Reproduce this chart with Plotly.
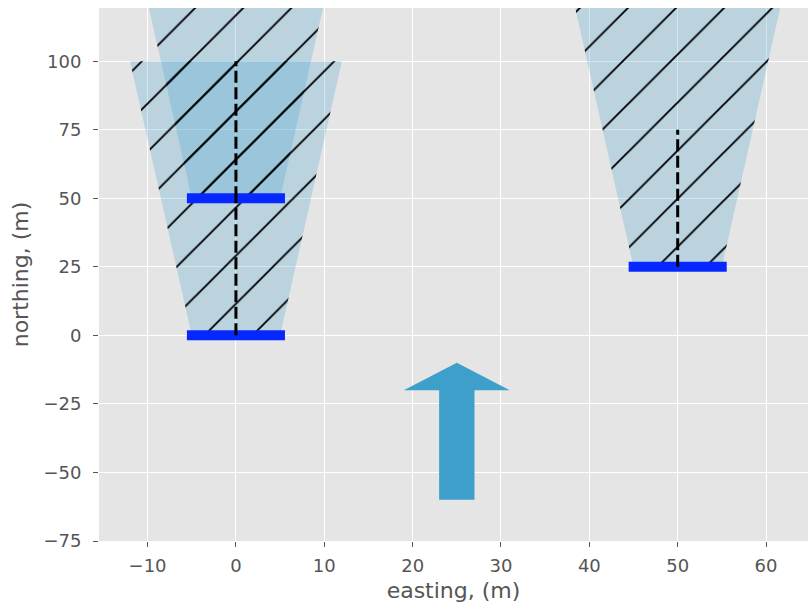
import numpy as np
import plotly.graph_objects as go

# Sensor layout (metres): position of each aperture and its beam
sensor_east = [0, 0, 50]
sensor_north = [0, 50, 25]
beam_range = [100, 100, 100]
view_length = [50, 50, 50]
aperture_width = 10.0
half_angle_deg = 4.0

# Direction-of-travel arrow
arrow_east = 25.0
arrow_north = -60.0
arrow_length = 50.0
arrow_shaft_width = 4.0
arrow_head_width = 12.0
arrow_head_length = 10.0

x_ticks = [-10, 0, 10, 20, 30, 40, 50, 60]
y_ticks = [-75, -50, -25, 0, 25, 50, 75, 100]

BEAM_RGB = (63, 159, 203)
beam_fill = "rgba(%d,%d,%d,0.26)" % BEAM_RGB
arrow_color = "rgb(%d,%d,%d)" % BEAM_RGB
bar_color = "#0628FF"
text_color = "#555555"
font_family = "DejaVu Sans"
cap_ext = 0.55  # projecting cap on the aperture bars

fig = go.Figure()

spread = np.tan(np.radians(half_angle_deg))
half = aperture_width / 2.0

# Beam footprints (hatched trapezoids)
for e, n, r in zip(sensor_east, sensor_north, beam_range):
    top_half = half + r * spread
    xs = [e - half, e + half, e + top_half, e - top_half, e - half]
    ys = [n, n, n + r, n + r, n]
    fig.add_trace(go.Scatter(
        x=xs, y=ys, mode="none", fill="toself", fillcolor=beam_fill,
        fillpattern=dict(shape="/", size=34, solidity=0.055,
                         fgcolor="black", fgopacity=1.0, bgcolor=beam_fill),
        hoverinfo="skip", showlegend=False,
    ))

# Aperture bars
for e, n in zip(sensor_east, sensor_north):
    fig.add_trace(go.Scatter(
        x=[e - half - cap_ext, e + half + cap_ext], y=[n, n], mode="lines",
        line=dict(color=bar_color, width=10), hoverinfo="skip", showlegend=False,
    ))

# Look direction (dashed)
for e, n, L in zip(sensor_east, sensor_north, view_length):
    fig.add_trace(go.Scatter(
        x=[e, e], y=[n, n + L], mode="lines",
        line=dict(color="black", width=3, dash="12px,4.5px"),
        hoverinfo="skip", showlegend=False,
    ))

# Arrow
sw = arrow_shaft_width / 2.0
hw = arrow_head_width / 2.0
head_base = arrow_north + arrow_length - arrow_head_length
tip = arrow_north + arrow_length
ax = [arrow_east - sw, arrow_east + sw, arrow_east + sw, arrow_east + hw,
      arrow_east, arrow_east - hw, arrow_east - sw, arrow_east - sw]
ay = [arrow_north, arrow_north, head_base, head_base, tip, head_base,
      head_base, arrow_north]
fig.add_trace(go.Scatter(
    x=ax, y=ay, mode="none", fill="toself", fillcolor=arrow_color,
    hoverinfo="skip", showlegend=False,
))

axis_common = dict(
    showgrid=True, gridcolor="white", gridwidth=1.3,
    zeroline=False, showline=False,
    ticks="outside", ticklen=5, tickwidth=1.2, tickcolor=text_color,
    tickfont=dict(family=font_family, size=18, color=text_color),
)

fig.update_xaxes(
    range=[-15.5, 64.75], tickvals=x_ticks,
    title=dict(text="easting, (m)", standoff=8,
               font=dict(family=font_family, size=22, color=text_color)),
    ticklabelstandoff=3,
    **axis_common,
)
fig.update_yaxes(
    range=[-75, 119.4], tickvals=y_ticks,
    title=dict(text="northing, (m)", standoff=8,
               font=dict(family=font_family, size=22, color=text_color)),
    ticklabelstandoff=8,
    **axis_common,
)

fig.update_layout(
    width=808, height=612,
    margin=dict(l=99, r=0, t=8, b=71, autoexpand=False),
    paper_bgcolor="white", plot_bgcolor="#E5E5E5",
    font=dict(family=font_family, color=text_color),
    showlegend=False,
)

fig.write_html("out.html")
